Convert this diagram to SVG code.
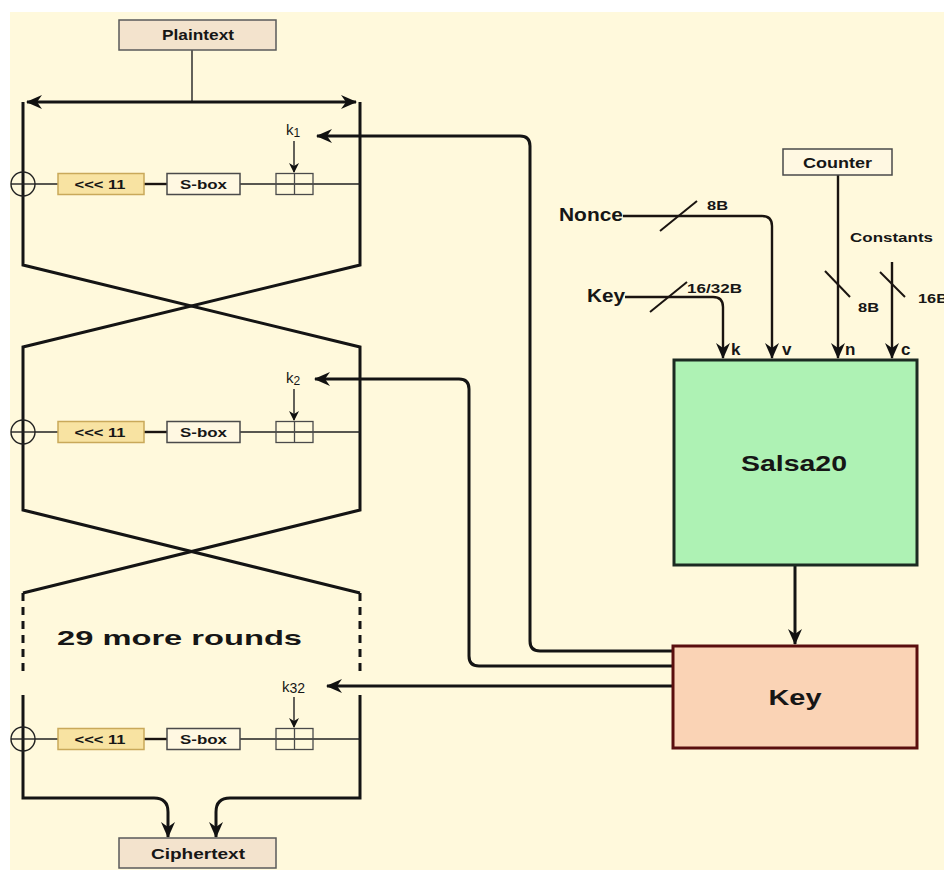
<svg xmlns="http://www.w3.org/2000/svg" width="944" height="870" viewBox="0 0 944 870">
  <style>
    text { font-family: "Liberation Sans", Arial, sans-serif; font-weight: bold; fill: #161616; }
    .thick { fill: none; stroke: #141414; stroke-width: 3; }
    .mid { fill: none; stroke: #1a1410; stroke-width: 2.4; }
    .thin { fill: none; stroke: #222; stroke-width: 1.4; }
    .slash { fill: none; stroke: #1a1410; stroke-width: 2; }
    .dash { fill: none; stroke: #141414; stroke-width: 3; stroke-dasharray: 8 6; }
    .box { fill: #F3E3CD; stroke: #5a5a5a; stroke-width: 1.5; }
    .rot { fill: #F8E3A2; stroke: #C9A95A; stroke-width: 1.5; }
    .sbox { fill: #FFF8E2; stroke: #4a4a4a; stroke-width: 1.5; }
    .add { fill: none; stroke: #4a4a4a; stroke-width: 1.3; }
    .klab { font-weight: normal; font-size: 15px; }
    .port { font-size: 17px; }
  </style>
  <defs>
    <marker id="ah" markerUnits="userSpaceOnUse" viewBox="0 0 16 14" markerWidth="16" markerHeight="14" refX="15" refY="7" orient="auto-start-reverse">
      <path d="M0,0 L16,7 L0,14 L5,7 z" fill="#111"/>
    </marker>
    <marker id="ahs" markerUnits="userSpaceOnUse" viewBox="0 0 10 10" markerWidth="10" markerHeight="10" refX="9" refY="5" orient="auto">
      <path d="M0,0 L10,5 L0,10 L3,5 z" fill="#111"/>
    </marker>
  </defs>

  <!-- page background -->
  <rect x="0" y="0" width="944" height="870" fill="#ffffff"/>
  <rect x="10" y="12" width="934" height="858" fill="#FFF9DC"/>

  <!-- cipher frame and all connectors -->
  <g id="connectors">
    <path class="thin" d="M192,50 V102"/>
    <path class="thick" d="M27,102 H356" marker-start="url(#ah)" marker-end="url(#ah)"/>
    <path class="thick" d="M23,102 V265 L360,347 V510 L23,593"/>
    <path class="thick" d="M360,102 V265 L23,347 V510 L360,593"/>
    <path class="dash" d="M23,593 V677"/>
    <path class="dash" d="M360,593 V677"/>
    <path class="thick" d="M23,695 V798 H154 Q168,798 168,812 V837" marker-end="url(#ah)"/>
    <path class="thick" d="M360,695 V798 H230 Q216,798 216,812 V837" marker-end="url(#ah)"/>

    <!-- round key feeds from the key schedule -->
    <path class="thick" d="M673,651 H540 Q530,651 530,641 V146 Q530,136 520,136 H317" marker-end="url(#ah)"/>
    <path class="thick" d="M673,666 H479 Q469,666 469,656 V389 Q469,379 459,379 H315" marker-end="url(#ah)"/>
    <path class="thick" d="M673,686 H327" marker-end="url(#ah)"/>

    <!-- Salsa20 inputs -->
    <path class="mid" d="M623,216 H762 Q772,216 772,226 V358" marker-end="url(#ah)"/>
    <path class="mid" d="M625,297 H713 Q723,297 723,307 V358" marker-end="url(#ah)"/>
    <path class="mid" d="M838,175 V358" marker-end="url(#ah)"/>
    <path class="mid" d="M892,262 V358" marker-end="url(#ah)"/>
    <path class="slash" d="M660,231 L697,201"/>
    <path class="slash" d="M650,312 L687,282"/>
    <path class="slash" d="M825,271 L850,297"/>
    <path class="slash" d="M880,272 L905,297"/>
    <path class="thick" d="M795,565 V644" marker-end="url(#ah)"/>
  </g>

  <g id="plaintext">
    <rect class="box" x="119" y="20" width="157" height="30"/>
    <text x="198" y="40" font-size="14" text-anchor="middle" textLength="72" lengthAdjust="spacingAndGlyphs">Plaintext</text>
  </g>

  <g id="ciphertext">
    <rect class="box" x="119" y="838" width="157" height="30"/>
    <text x="198" y="859" font-size="14" text-anchor="middle" textLength="94" lengthAdjust="spacingAndGlyphs">Ciphertext</text>
  </g>

  <!-- round 1 -->
  <g id="round1">
    <path class="thin" d="M35,184 H58 M240,184 H360"/>
    <path class="mid" d="M144,184 H167"/>
    <circle class="thin" cx="23" cy="184" r="12"/>
    <path class="thin" d="M11,184 H35"/>
    <rect class="rot" x="58" y="173.5" width="86" height="21"/>
    <text x="100" y="189" font-size="13" text-anchor="middle" textLength="51" lengthAdjust="spacingAndGlyphs">&lt;&lt;&lt; 11</text>
    <rect class="sbox" x="167" y="173.5" width="73" height="21"/>
    <text x="203.5" y="189" font-size="13" text-anchor="middle" textLength="47" lengthAdjust="spacingAndGlyphs">S-box</text>
    <rect class="add" x="276" y="173.5" width="37" height="21"/>
    <path class="add" d="M294.5,173.5 V194.5"/>
    <text class="klab" x="286" y="135">k<tspan font-size="12" dy="2">1</tspan></text>
    <path class="thin" d="M294,141 V172" marker-end="url(#ahs)"/>
  </g>

  <!-- round 2 -->
  <g id="round2">
    <path class="thin" d="M35,432 H58 M240,432 H360"/>
    <path class="mid" d="M144,432 H167"/>
    <circle class="thin" cx="23" cy="432" r="12"/>
    <path class="thin" d="M11,432 H35"/>
    <rect class="rot" x="58" y="421.5" width="86" height="21"/>
    <text x="100" y="437" font-size="13" text-anchor="middle" textLength="51" lengthAdjust="spacingAndGlyphs">&lt;&lt;&lt; 11</text>
    <rect class="sbox" x="167" y="421.5" width="73" height="21"/>
    <text x="203.5" y="437" font-size="13" text-anchor="middle" textLength="47" lengthAdjust="spacingAndGlyphs">S-box</text>
    <rect class="add" x="276" y="421.5" width="37" height="21"/>
    <path class="add" d="M294.5,421.5 V442.5"/>
    <text class="klab" x="286" y="383">k<tspan font-size="12" dy="2">2</tspan></text>
    <path class="thin" d="M294,389 V420" marker-end="url(#ahs)"/>
  </g>

  <text x="57" y="645" font-size="21" textLength="245" lengthAdjust="spacingAndGlyphs">29 more rounds</text>

  <!-- round 32 -->
  <g id="round32">
    <path class="thin" d="M35,739 H58 M240,739 H360"/>
    <path class="mid" d="M144,739 H167"/>
    <circle class="thin" cx="23" cy="739" r="12"/>
    <path class="thin" d="M11,739 H35"/>
    <rect class="rot" x="58" y="728.5" width="86" height="21"/>
    <text x="100" y="744" font-size="13" text-anchor="middle" textLength="51" lengthAdjust="spacingAndGlyphs">&lt;&lt;&lt; 11</text>
    <rect class="sbox" x="167" y="728.5" width="73" height="21"/>
    <text x="203.5" y="744" font-size="13" text-anchor="middle" textLength="47" lengthAdjust="spacingAndGlyphs">S-box</text>
    <rect class="add" x="276" y="728.5" width="37" height="21"/>
    <path class="add" d="M294.5,728.5 V749.5"/>
    <text class="klab" x="282" y="692">k<tspan font-size="14" dy="1">32</tspan></text>
    <path class="thin" d="M294,697 V727" marker-end="url(#ahs)"/>
  </g>

  <g id="counter">
    <rect class="sbox" x="783" y="149" width="109" height="26" stroke="#333"/>
    <text x="837.5" y="168" font-size="14" text-anchor="middle" textLength="69" lengthAdjust="spacingAndGlyphs">Counter</text>
  </g>

  <g id="inputs">
    <text x="559" y="221" font-size="18" textLength="64" lengthAdjust="spacingAndGlyphs">Nonce</text>
    <text x="707" y="210" font-size="13" textLength="21" lengthAdjust="spacingAndGlyphs">8B</text>
    <text x="587" y="302" font-size="18" textLength="38" lengthAdjust="spacingAndGlyphs">Key</text>
    <text x="687" y="293" font-size="13" textLength="55" lengthAdjust="spacingAndGlyphs">16/32B</text>
    <text x="858" y="312" font-size="13" textLength="21" lengthAdjust="spacingAndGlyphs">8B</text>
    <text x="850" y="242" font-size="13" textLength="83" lengthAdjust="spacingAndGlyphs">Constants</text>
    <text x="918" y="303" font-size="13" textLength="30" lengthAdjust="spacingAndGlyphs">16B</text>
  </g>

  <g id="salsa20">
    <rect x="674" y="360" width="243" height="205" fill="#AEF2B4" stroke="#1c2a22" stroke-width="3"/>
    <text x="794" y="471" font-size="22" text-anchor="middle" textLength="106" lengthAdjust="spacingAndGlyphs">Salsa20</text>
    <text class="port" x="731" y="355">k</text>
    <text class="port" x="782" y="355">v</text>
    <text class="port" x="845" y="355">n</text>
    <text class="port" x="901" y="355">c</text>
  </g>

  <g id="key">
    <rect x="673" y="646" width="244" height="102" fill="#FAD3B5" stroke="#5A0E0E" stroke-width="3"/>
    <text x="795" y="705" font-size="22" text-anchor="middle" textLength="53" lengthAdjust="spacingAndGlyphs">Key</text>
  </g>
</svg>
